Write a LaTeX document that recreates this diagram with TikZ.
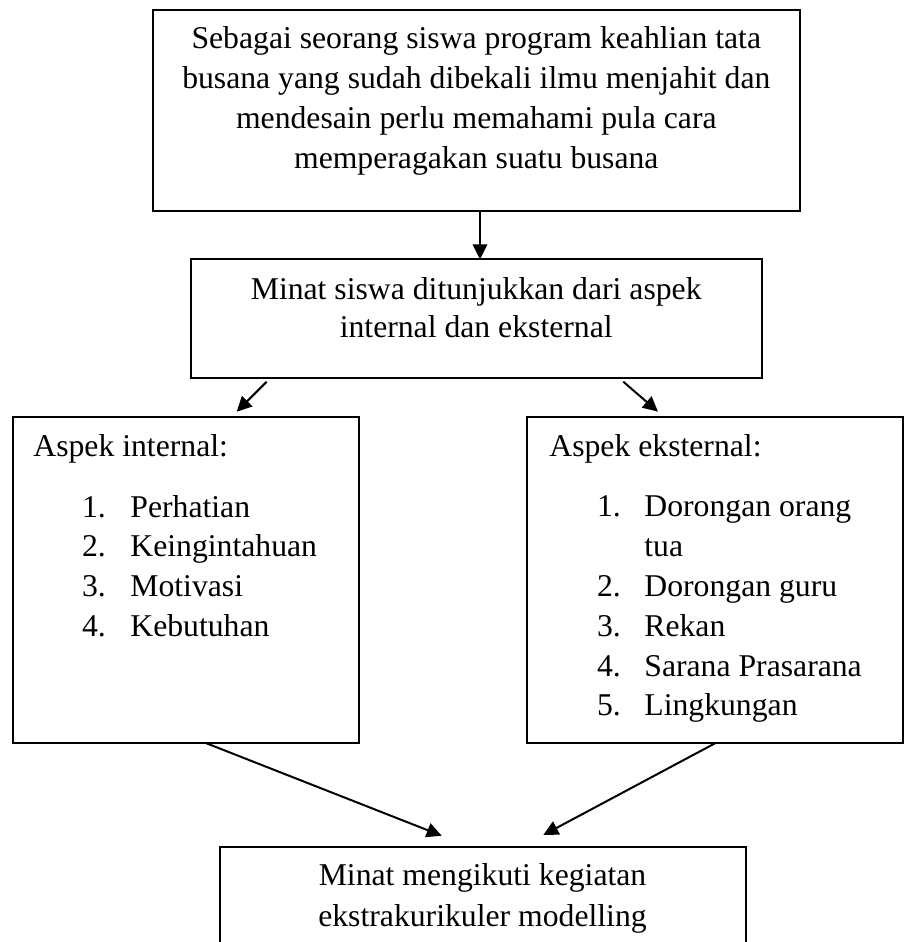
\documentclass[tikz,border=0pt]{standalone}
\usepackage{fontspec}
\setmainfont{Liberation Serif}
\usetikzlibrary{arrows.meta}
\begin{document}
\begin{tikzpicture}[x=0.5pt,y=-0.5pt,
  box/.style={draw, line width=0.85pt, rectangle, inner sep=0pt, outer sep=0pt, anchor=north west},
  txt/.style={inner sep=0pt, font=\fontsize{15.85pt}{20pt}\selectfont},
  ctr/.style={txt, anchor=base},
  lft/.style={txt, anchor=base west},
  arr/.style={line width=1pt, -{Triangle[length=7.5pt,width=7.3pt]}}]
\path[use as bounding box, clip] (0,0) rectangle (904,942);

% top box
\node[box, line width=1.1pt, minimum width=323.65pt, minimum height=100.35pt] (top) at (152.7,10) {};
\node[ctr] (t1) at (476.3,48.3) {Sebagai seorang siswa program keahlian tata};
\node[ctr] (t2) at (476.3,88.3) {busana yang sudah dibekali ilmu menjahit dan};
\node[ctr] (t3) at (476.3,128.3) {mendesain perlu memahami pula cara};
\node[ctr] (t4) at (476.3,168.3) {memperagakan suatu busana};

% middle box
\node[box, minimum width=285.5pt, minimum height=59.5pt] (mid) at (190.7,259.3) {};
\node[ctr] (m1) at (476.2,299) {Minat siswa ditunjukkan dari aspek};
\node[ctr] (m2) at (476.2,337) {internal dan eksternal};

% left box
\node[box, minimum width=173.3pt, minimum height=163pt] (inl) at (12.7,416.7) {};
\node[lft] (ih) at (33,456.7) {Aspek internal:};
\node[lft] (in1) at (81.7,517) {1.};
\node[lft] (it1) at (130,517) {Perhatian};
\node[lft] (in2) at (81.7,556.7) {2.};
\node[lft] (it2) at (130,556.7) {Keingintahuan};
\node[lft] (in3) at (81.7,596.3) {3.};
\node[lft] (it3) at (130,596.3) {Motivasi};
\node[lft] (in4) at (81.7,636) {4.};
\node[lft] (it4) at (130,636) {Kebutuhan};

% right box
\node[box, minimum width=188pt, minimum height=163.3pt] (ext) at (526.7,416.7) {};
\node[lft] (eh) at (549,456.7) {Aspek eksternal:};
\node[lft] (en1) at (596.7,516.7) {1.};
\node[lft] (et1) at (644,516.7) {Dorongan orang};
\node[lft] (et1b) at (644,556.7) {tua};
\node[lft] (en2) at (596.7,596.7) {2.};
\node[lft] (et2) at (644,596.7) {Dorongan guru};
\node[lft] (en3) at (596.7,636.7) {3.};
\node[lft] (et3) at (644,636.7) {Rekan};
\node[lft] (en4) at (596.7,676) {4.};
\node[lft] (et4) at (644,676) {Sarana Prasarana};
\node[lft] (en5) at (596.7,715) {5.};
\node[lft] (et5) at (644,715) {Lingkungan};

% bottom box
\node[box, minimum width=262.85pt, minimum height=60pt] (fin) at (220,846.7) {};
\node[ctr] (f1) at (482.5,885) {Minat mengikuti kegiatan};
\node[ctr] (f2) at (482.5,926) {ekstrakurikuler modelling};

% connectors
\coordinate (p1) at (480,0);
\draw[arr] (p1 |- top.south) -- (p1 |- mid.north);

\coordinate (p2s) at (266.7,381.7);
\coordinate (p2e) at (236.7,411.7);
\draw[arr] (p2s) -- (p2e);

\coordinate (p3s) at (623.3,381.7);
\coordinate (p3e) at (658,411.7);
\draw[arr] (p3s) -- (p3e);

\coordinate (p4) at (205,0);
\coordinate (p4e) at (441.7,835.7);
\draw[arr] (p4 |- inl.south) -- (p4e);

\coordinate (p5) at (715,0);
\coordinate (p5e) at (543.3,835);
\draw[arr] (p5 |- ext.south) -- (p5e);
\end{tikzpicture}
\end{document}
